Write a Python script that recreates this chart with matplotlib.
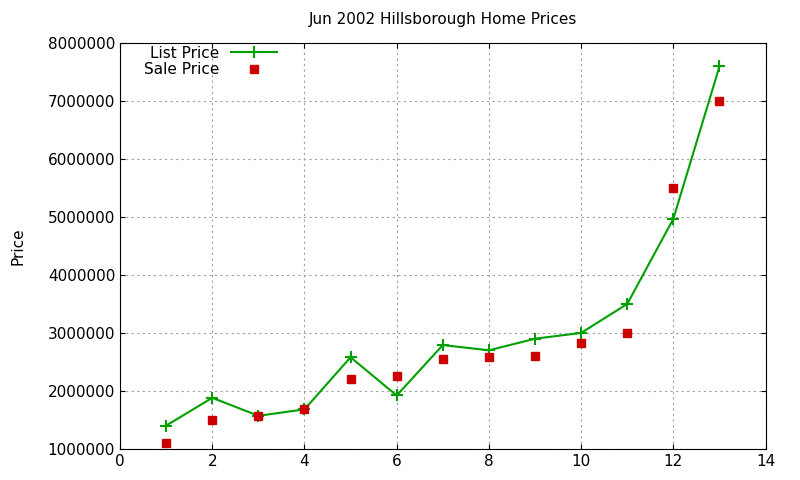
import matplotlib
matplotlib.use("Agg")
import matplotlib.pyplot as plt

# Data
homes = [1, 2, 3, 4, 5, 6, 7, 8, 9, 10, 11, 12, 13]
list_price = [1400000, 1880000, 1570000, 1680000, 2580000, 1920000, 2790000,
              2700000, 2900000, 3000000, 3500000, 4970000, 7600000]
sale_price = [1100000, 1500000, 1560000, 1680000, 2200000, 2250000, 2550000,
              2580000, 2600000, 2830000, 3000000, 5500000, 7000000]
y_ticks = [1000000, 2000000, 3000000, 4000000, 5000000, 6000000, 7000000, 8000000]

fig = plt.figure(figsize=(8, 4.8), dpi=100)
ax = fig.add_axes([0.15, 0.065, 0.807, 0.845])

ax.plot(homes, list_price, color="#00a000", lw=1.5, marker="+", ms=8, mew=1.5, label="List Price")
ax.plot(homes, sale_price, ls="none", marker="s", ms=6, color="#cc0000", label="Sale Price")

ax.set_xlim(0, 14)
ax.set_ylim(1000000, 8000000)
ax.set_yticks(y_ticks)
ax.set_yticklabels([str(v) for v in y_ticks])
ax.grid(True, color="#a0a0a0", ls=(0, (2, 3)), lw=0.8)
ax.tick_params(direction="in", top=True, right=True, labelsize=11)
ax.set_ylabel("Price", fontsize=11, labelpad=16)
ax.set_title("Jun 2002 Hillsborough Home Prices", fontsize=11, pad=14)

ax.legend(loc="upper left", bbox_to_anchor=(0.02, 1.02), frameon=False,
          markerfirst=False, fontsize=11, handlelength=3, borderpad=0.2,
          labelspacing=0.1)

fig.savefig("out.png")
